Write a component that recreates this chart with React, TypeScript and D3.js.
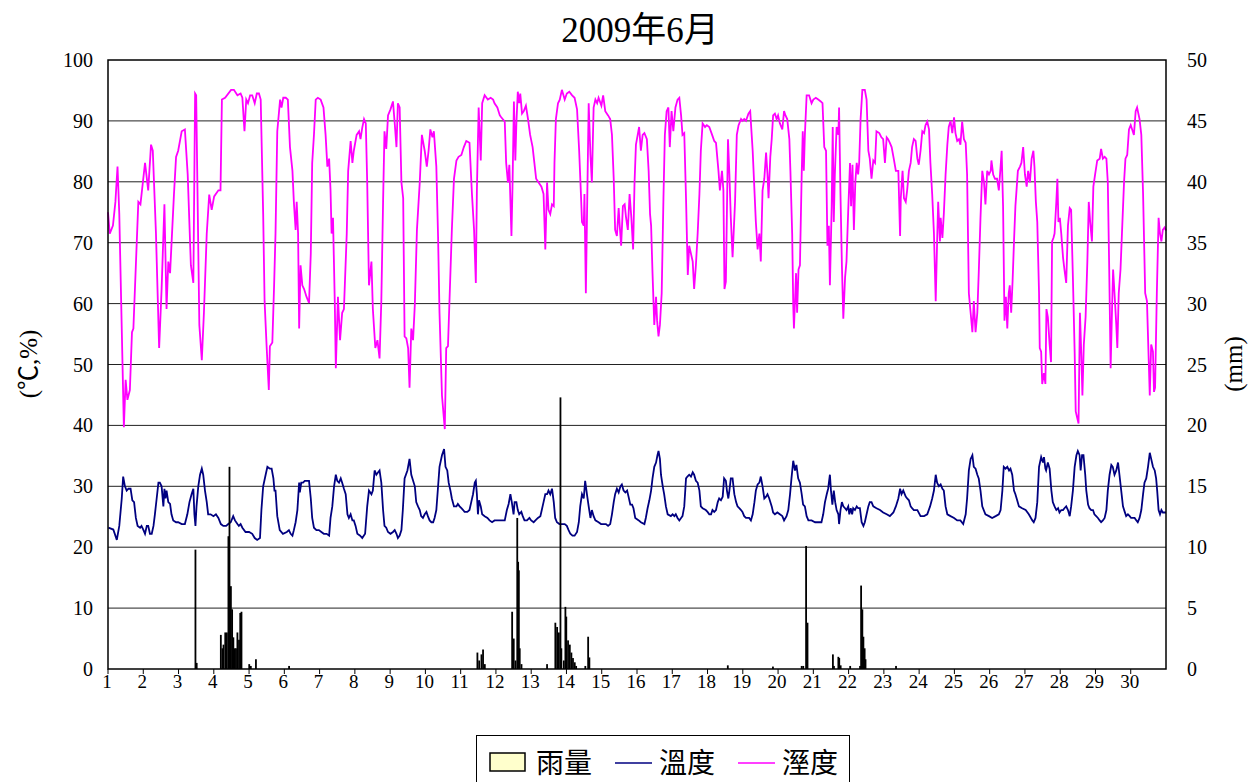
import React from "react";
import * as d3 from "d3";

// time in days since 1 June 00:00, value
const humidity: [number, number][] = [
[0.00,75.0],[0.05,71.5],[0.14,72.8],[0.21,76.7],[0.27,82.5],[0.32,74.7],[0.45,39.7],[0.50,47.5],[0.55,44.2],[0.62,45.8],[0.68,55.3],[0.72,55.9],[0.86,76.7],[0.92,76.3],[1.05,83.1],[1.14,78.6],[1.22,86.1],[1.27,85.1],[1.36,71.5],[1.45,52.7],[1.52,62.4],[1.60,76.3],[1.66,59.1],[1.71,66.9],[1.76,65.0],[1.87,77.9],[1.93,84.1],[1.99,85.1],[2.09,88.3],[2.18,88.6],[2.26,81.2],[2.35,66.3],[2.42,63.4],[2.47,94.5],[2.50,94.2],[2.59,56.5],[2.66,50.7],[2.72,58.5],[2.80,71.5],[2.87,77.9],[2.94,75.4],[3.01,77.6],[3.13,78.6],[3.19,78.6],[3.23,93.5],[3.32,93.8],[3.49,95.1],[3.57,95.1],
[3.67,94.2],[3.76,94.5],[3.81,93.8],[3.87,88.3],[3.92,93.5],[3.97,92.9],[4.03,94.2],[4.09,94.2],[4.16,92.9],[4.22,94.5],[4.28,94.5],[4.33,93.5],[4.40,74.7],[4.44,60.4],[4.50,52.7],[4.56,45.8],[4.59,53.0],[4.66,53.6],[4.71,63.0],[4.75,71.5],[4.80,88.3],[4.88,93.5],[4.92,92.2],[4.97,93.8],[5.04,93.8],[5.10,93.5],[5.16,85.7],[5.23,81.8],[5.27,76.7],[5.32,72.1],[5.35,76.7],[5.39,71.5],[5.42,55.9],[5.46,66.3],[5.51,63.0],[5.56,62.4],[5.63,61.1],[5.70,60.1],[5.75,68.2],[5.79,83.1],[5.84,87.7],[5.89,93.5],[5.95,93.8],[6.03,93.5],[6.11,92.2],[6.17,87.7],[6.22,82.5],[6.27,83.8],[6.31,78.6],[6.34,71.5],[6.38,74.1],[6.43,60.4],[6.46,49.4],[6.52,61.1],[6.58,54.0],[6.64,58.5],[6.69,59.1],[6.77,71.5],[6.81,81.8],[6.88,86.7],[6.93,83.1],[6.97,85.1],[7.05,87.7],[7.12,88.3],[7.16,87.0],[7.21,88.9],[7.26,90.3],[7.31,89.6],[7.35,79.9],[7.40,63.0],
[7.47,66.9],[7.51,59.1],[7.58,52.7],[7.64,54.0],[7.70,51.0],[7.75,60.4],[7.80,76.7],[7.84,88.3],[7.89,85.4],[7.94,90.9],[8.01,91.9],[8.08,93.2],[8.13,89.6],[8.18,85.7],[8.22,92.9],[8.27,92.2],[8.32,79.9],[8.37,77.3],[8.41,54.6],[8.46,54.3],[8.51,52.7],[8.55,46.2],[8.60,55.9],[8.65,54.0],[8.70,59.8],[8.76,72.1],[8.84,79.9],[8.90,87.7],[8.98,85.1],[9.04,82.5],[9.09,85.1],[9.14,88.6],[9.20,87.3],[9.24,88.3],[9.31,82.5],[9.36,70.8],[9.40,58.5],[9.47,44.9],[9.55,39.4],[9.59,52.7],[9.64,53.0],[9.69,61.7],[9.75,72.1],[9.81,80.5],[9.88,83.5],[9.94,84.1],[10.02,84.4],[10.09,85.7],[10.16,86.7],[10.25,86.4],[10.32,78.0],[10.38,72.1],[10.43,63.4],[10.46,78.6],[10.51,92.2],[10.57,83.5],[10.61,92.9],[10.68,94.2],[10.77,93.5],[10.85,93.8],[10.92,93.5],[10.96,92.9],[11.04,92.2],[11.11,90.9],[11.15,90.6],
[11.25,89.9],[11.29,83.1],[11.34,79.9],[11.38,82.8],[11.44,71.1],[11.47,79.2],[11.51,93.2],[11.55,83.5],[11.58,89.6],[11.62,94.8],[11.66,92.9],[11.69,94.5],[11.74,91.2],[11.79,91.6],[11.85,92.5],[11.91,90.3],[11.97,87.7],[12.04,85.7],[12.09,83.1],[12.14,80.5],[12.21,79.9],[12.29,79.2],[12.35,78.0],[12.40,68.9],[12.45,79.9],[12.49,75.4],[12.54,74.7],[12.59,76.3],[12.64,76.0],[12.66,83.1],[12.70,90.3],[12.76,92.9],[12.81,93.5],[12.87,95.1],[12.95,93.5],[13.01,94.5],[13.08,94.8],[13.16,94.2],[13.23,93.8],[13.30,91.9],[13.36,85.1],[13.41,78.0],[13.44,73.4],[13.49,72.8],[13.51,78.0],[13.55,61.7],[13.59,77.3],[13.63,92.9],[13.68,84.4],[13.72,79.9],[13.77,92.2],[13.82,93.5],[13.87,92.9],[13.91,93.8],[13.99,92.5],[14.04,94.2],[14.10,91.6],[14.18,90.9],[14.24,90.3],[14.29,87.7],[14.34,80.5],[14.38,72.1],[14.43,71.1],[14.48,75.7],[14.51,72.8],[14.55,69.5],[14.60,76.0],[14.65,76.3],[14.69,74.1],[14.74,72.1],[14.79,78.0],[14.84,74.1],[14.89,68.9],[14.93,79.9],[14.97,86.1],
[15.02,87.7],[15.06,89.0],[15.11,85.1],[15.16,87.7],[15.21,88.0],[15.28,87.0],[15.33,81.8],[15.37,74.7],[15.40,72.8],[15.44,65.0],[15.49,56.5],[15.54,61.1],[15.57,57.2],[15.61,54.6],[15.65,56.5],[15.70,61.7],[15.75,77.3],[15.79,87.7],[15.84,91.6],[15.89,92.2],[15.93,85.7],[15.98,91.6],[16.03,88.3],[16.09,92.2],[16.15,93.5],[16.20,93.8],[16.25,90.9],[16.29,87.7],[16.34,88.0],[16.39,77.3],[16.44,64.7],[16.48,69.5],[16.53,68.2],[16.58,66.9],[16.62,62.4],[16.67,66.3],[16.72,71.5],[16.77,78.0],[16.81,85.1],[16.86,89.6],[16.93,89.0],[16.98,89.3],[17.05,89.0],[17.13,87.7],[17.19,86.7],[17.24,86.4],[17.31,81.8],[17.35,78.6],[17.41,81.8],[17.45,78.6],[17.48,62.4],[17.52,63.6],[17.58,87.0],[17.62,81.2],[17.66,74.1],[17.71,67.6],[17.78,76.7],[17.83,87.7],[17.88,89.3],[17.95,90.3],[17.99,90.0],[18.04,90.3],[18.09,90.0],[18.16,91.2],[18.21,91.6],[18.28,85.1],[18.33,78.6],[18.37,73.4],[18.42,68.9],[18.47,71.5],[18.51,66.9],[18.56,78.6],[18.61,80.5],[18.66,84.8],[18.70,81.2],[18.73,77.3],[18.78,84.1],
[18.82,87.0],[18.86,90.9],[18.91,91.2],[18.96,90.3],[19.00,90.9],[19.05,89.6],[19.12,88.6],[19.17,91.6],[19.21,90.9],[19.26,90.3],[19.32,87.0],[19.35,81.8],[19.40,71.5],[19.43,59.8],[19.45,55.9],[19.48,60.4],[19.51,65.0],[19.54,58.5],[19.58,65.6],[19.62,66.3],[19.67,81.2],[19.70,88.3],[19.73,81.8],[19.76,87.7],[19.81,94.2],[19.88,94.2],[19.95,92.9],[20.00,93.5],[20.07,93.8],[20.14,93.5],[20.21,93.2],[20.26,92.9],[20.31,85.7],[20.36,85.1],[20.40,69.5],[20.44,72.8],[20.47,63.0],[20.52,75.9],[20.55,89.0],[20.58,73.4],[20.61,81.2],[20.66,89.0],[20.71,87.7],[20.73,92.2],[20.77,77.9],[20.81,66.3],[20.85,57.5],[20.90,64.3],[20.94,66.9],[20.99,75.4],[21.04,83.1],[21.07,76.0],[21.11,82.8],[21.15,72.1],[21.19,79.9],[21.23,83.1],[21.27,81.2],[21.30,83.1],[21.34,90.3],[21.39,95.1],[21.46,95.1],[21.51,93.5],[21.56,85.1],[21.60,83.8],[21.65,80.5],[21.70,83.5],[21.75,83.1],[21.79,88.3],[21.87,88.0],[21.93,87.3],[21.98,87.0],[22.03,83.1],[22.08,87.3],[22.12,87.0],[22.17,86.4],[22.22,85.7],[22.28,83.8],[22.34,81.8],[22.41,81.8],[22.46,71.1],[22.48,77.3],[22.53,81.8],[22.57,77.3],
[22.62,76.7],[22.66,78.6],[22.71,81.8],[22.76,83.1],[22.80,85.7],[22.85,87.0],[22.90,86.7],[22.95,83.8],[22.99,82.8],[23.04,85.1],[23.09,88.3],[23.14,88.0],[23.18,89.3],[23.23,89.9],[23.28,88.6],[23.32,83.1],[23.37,78.0],[23.42,71.5],[23.47,60.4],[23.51,70.2],[23.54,76.7],[23.59,70.2],[23.61,74.1],[23.66,70.8],[23.70,74.7],[23.75,81.2],[23.80,86.1],[23.84,89.0],[23.89,90.0],[23.94,88.0],[23.99,90.6],[24.03,88.0],[24.08,86.7],[24.13,87.0],[24.17,86.1],[24.22,89.9],[24.27,87.0],[24.32,86.4],[24.36,81.2],[24.41,61.7],[24.46,58.5],[24.51,55.3],[24.55,60.4],[24.60,55.3],[24.65,58.5],[24.69,65.0],[24.74,74.1],[24.79,81.8],[24.84,79.9],[24.88,76.3],[24.93,81.8],[24.98,81.2],[25.03,81.8],[25.05,83.5],[25.10,81.2],[25.15,80.5],[25.21,80.5],[25.26,78.6],[25.31,82.5],[25.34,85.1],[25.38,76.0],[25.42,57.2],[25.46,61.1],[25.50,55.9],[25.54,61.7],[25.57,63.0],[25.61,58.5],[25.65,63.7],[25.69,70.2],[25.73,76.0],[25.80,81.8],[25.86,82.5],[25.90,83.1],[25.95,85.7],[26.00,81.2],[26.05,79.2],[26.09,81.8],[26.14,79.9],[26.19,83.8],[26.24,85.1],[26.27,82.5],[26.31,76.7],[26.35,73.4],
[26.40,61.7],[26.42,52.7],[26.46,52.1],[26.49,46.8],[26.54,48.6],[26.58,46.8],[26.61,59.1],[26.65,57.8],[26.70,53.3],[26.74,50.4],[26.77,70.2],[26.81,70.8],[26.84,71.5],[26.89,76.7],[26.92,80.5],[26.95,73.4],[26.99,74.1],[27.03,71.5],[27.08,67.6],[27.12,65.6],[27.17,63.4],[27.22,72.8],[27.27,75.7],[27.31,75.4],[27.36,64.3],[27.41,52.0],[27.44,42.3],[27.48,41.3],[27.52,40.3],[27.56,58.5],[27.60,51.4],[27.63,44.9],[27.67,53.3],[27.72,57.8],[27.77,66.9],[27.81,76.7],[27.85,73.4],[27.90,70.2],[27.94,79.2],[27.99,81.2],[28.05,83.5],[28.12,83.8],[28.16,85.4],[28.21,83.8],[28.26,84.1],[28.31,83.8],[28.35,79.9],[28.39,65.6],[28.43,49.4],[28.47,59.1],[28.50,65.6],[28.54,61.7],[28.59,56.5],[28.62,52.7],[28.66,61.7],[28.71,65.6],[28.76,72.8],[28.81,79.9],[28.85,83.8],[28.90,84.4],[28.95,88.6],[29.00,89.3],[29.04,88.6],[29.09,87.7],[29.14,91.6],[29.18,92.2],[29.25,90.3],[29.30,87.7],[29.35,78.0],[29.41,61.7],[29.46,60.4],[29.51,50.7],[29.54,44.9],[29.58,53.3],[29.63,52.1],[29.66,45.5],[29.69,46.2],[29.74,61.7],[29.79,74.1],[29.83,71.5],[29.87,70.2],[29.91,72.1],[29.96,72.5],[30.00,72.0]
];

const temperature: [number, number][] = [
[0.01,23.2],[0.15,22.9],[0.25,21.2],[0.32,23.5],[0.39,28.0],[0.43,31.6],[0.48,30.0],[0.53,29.3],[0.58,29.6],[0.64,29.6],[0.69,27.7],[0.74,27.4],[0.79,24.8],[0.84,23.5],[0.91,23.2],[0.95,23.5],[1.00,22.9],[1.05,22.2],[1.10,23.5],[1.14,23.5],[1.19,22.2],[1.24,22.2],[1.29,23.5],[1.33,25.4],[1.38,28.0],[1.43,30.6],[1.47,30.6],[1.52,30.0],[1.57,26.7],[1.60,29.6],[1.63,28.0],[1.66,29.3],[1.71,27.4],[1.76,27.1],[1.80,25.4],[1.85,24.4],[1.93,24.1],[1.99,24.1],[2.09,23.8],[2.18,23.8],[2.25,25.4],[2.31,27.4],[2.37,28.7],[2.42,29.6],[2.45,25.4],[2.48,23.5],[2.51,26.7],[2.56,30.0],[2.61,31.9],[2.66,32.9],[2.70,31.9],[2.75,29.3],[2.80,27.4],[2.84,25.4],[2.91,25.4],[2.99,25.1],[3.06,25.4],[3.13,24.8],[3.20,23.8],[3.27,23.5],[3.35,23.5],[3.41,23.8],[3.48,24.1],[3.55,25.1],
[3.60,24.4],[3.67,23.8],[3.71,23.5],[3.76,23.8],[3.81,23.2],[3.90,22.5],[4.00,22.5],[4.09,22.2],[4.16,21.5],[4.23,21.2],[4.31,21.5],[4.35,26.1],[4.40,30.0],[4.47,31.9],[4.52,33.2],[4.59,32.9],[4.64,32.9],[4.69,31.3],[4.72,29.3],[4.75,29.3],[4.80,25.1],[4.87,22.8],[4.96,22.2],[5.07,22.5],[5.13,22.8],[5.18,22.2],[5.23,21.9],[5.27,22.8],[5.32,24.1],[5.37,26.1],[5.42,30.6],[5.44,29.0],[5.48,30.6],[5.53,30.6],[5.58,30.9],[5.65,30.9],[5.70,30.9],[5.75,28.0],[5.79,24.8],[5.84,23.2],[5.91,22.8],[5.98,22.8],[6.05,22.5],[6.12,22.2],[6.20,22.2],[6.27,21.9],[6.31,24.8],[6.36,26.7],[6.41,30.0],[6.46,31.9],[6.50,30.9],[6.55,30.6],[6.60,31.3],[6.64,30.6],[6.69,29.6],[6.74,28.7],[6.79,25.4],[6.83,24.8],[6.88,25.4],[6.93,24.4],[6.97,24.4],[7.02,23.5],[7.07,22.2],[7.15,21.9],[7.21,21.5],[7.29,22.2],[7.35,26.7],[7.40,29.3],
[7.47,28.7],[7.51,29.3],[7.56,32.6],[7.61,31.9],[7.66,32.3],[7.70,32.6],[7.75,30.6],[7.80,26.1],[7.84,23.5],[7.89,23.2],[7.94,22.5],[8.01,22.2],[8.08,22.5],[8.13,22.8],[8.18,22.2],[8.22,21.5],[8.27,21.9],[8.32,22.8],[8.36,26.1],[8.41,31.3],[8.49,32.6],[8.55,34.5],[8.60,31.9],[8.70,30.0],[8.74,27.4],[8.79,26.7],[8.84,26.1],[8.88,25.1],[8.93,24.8],[8.98,25.4],[9.03,25.8],[9.07,25.1],[9.12,24.4],[9.17,24.1],[9.22,24.1],[9.26,24.8],[9.31,26.1],[9.36,30.0],[9.40,33.2],[9.47,35.1],[9.53,36.1],[9.57,33.2],[9.62,32.6],[9.66,30.6],[9.71,29.3],[9.75,28.0],[9.81,26.7],[9.88,26.7],[9.92,27.1],[9.97,26.7],[10.02,26.4],[10.07,26.1],[10.11,25.8],[10.19,25.8],[10.25,26.1],[10.30,27.4],[10.35,28.7],[10.40,30.6],[10.43,30.9],[10.46,28.7],[10.49,25.4],[10.52,27.7],[10.57,26.7],[10.61,25.4],[10.68,25.1],[10.76,24.8],[10.82,24.4],[10.89,24.1],[10.96,24.4],[11.06,24.4],[11.15,24.4],
[11.25,24.4],[11.31,26.1],[11.36,27.1],[11.41,28.7],[11.45,27.4],[11.50,25.4],[11.53,27.4],[11.58,27.4],[11.62,26.1],[11.66,25.4],[11.72,25.8],[11.76,25.1],[11.81,24.4],[11.88,24.4],[11.95,24.8],[12.00,24.4],[12.07,24.1],[12.12,24.4],[12.19,24.8],[12.26,25.1],[12.30,26.1],[12.35,27.4],[12.40,28.7],[12.45,28.7],[12.49,29.3],[12.54,28.7],[12.59,29.6],[12.64,27.4],[12.68,24.8],[12.73,24.1],[12.80,23.8],[12.87,23.8],[12.95,23.8],[13.01,23.5],[13.06,22.8],[13.11,22.2],[13.17,21.9],[13.23,21.9],[13.30,22.5],[13.35,24.1],[13.39,26.7],[13.44,28.7],[13.49,28.0],[13.53,30.9],[13.58,28.7],[13.63,26.7],[13.68,24.8],[13.72,26.1],[13.77,25.1],[13.82,24.4],[13.91,24.1],[13.98,23.8],[14.05,23.8],[14.12,23.8],[14.18,23.5],[14.24,23.8],[14.29,25.4],[14.34,27.4],[14.38,28.7],[14.43,29.6],[14.48,29.0],[14.53,30.0],[14.57,30.3],[14.62,29.3],[14.67,29.0],[14.72,29.3],[14.76,28.3],[14.81,27.0],[14.86,27.0],[14.90,26.4],[14.95,24.8],
[15.05,24.4],[15.11,24.1],[15.21,23.8],[15.25,24.8],[15.30,26.4],[15.35,27.7],[15.40,29.3],[15.44,31.3],[15.49,33.2],[15.54,33.9],[15.58,35.1],[15.61,35.8],[15.65,34.5],[15.68,31.9],[15.73,30.0],[15.77,28.7],[15.82,26.7],[15.87,25.4],[15.96,25.1],[16.01,25.4],[16.06,25.1],[16.10,25.4],[16.15,24.8],[16.20,24.4],[16.25,24.8],[16.29,25.1],[16.34,26.7],[16.39,31.3],[16.43,31.6],[16.48,31.9],[16.53,31.6],[16.58,32.3],[16.62,31.9],[16.67,30.9],[16.72,30.6],[16.77,29.3],[16.81,26.7],[16.86,26.4],[16.95,26.1],[17.00,25.8],[17.05,25.4],[17.10,25.4],[17.14,26.1],[17.19,25.8],[17.24,26.1],[17.29,27.4],[17.33,28.0],[17.38,27.7],[17.43,28.3],[17.47,31.3],[17.52,30.9],[17.55,29.3],[17.59,28.0],[17.62,29.3],[17.66,31.3],[17.71,31.3],[17.76,28.7],[17.81,27.4],[17.85,26.7],[17.90,26.4],[17.95,26.1],[17.99,25.8],[18.04,25.1],[18.09,24.8],[18.18,24.8],[18.23,24.4],[18.28,25.4],[18.33,27.4],[18.37,29.3],[18.42,30.3],[18.47,30.6],[18.51,31.6],[18.56,30.0],[18.61,28.0],[18.66,28.3],[18.70,28.7],[18.75,28.0],
[18.82,26.7],[18.86,25.7],[18.91,25.4],[18.98,25.7],[19.05,25.4],[19.12,25.1],[19.17,24.4],[19.24,25.1],[19.29,26.1],[19.34,28.7],[19.38,31.3],[19.43,34.2],[19.48,32.6],[19.52,33.5],[19.57,31.3],[19.62,30.6],[19.67,28.7],[19.71,27.0],[19.76,26.7],[19.81,25.1],[19.86,24.4],[19.95,24.4],[20.05,24.1],[20.14,24.1],[20.23,24.1],[20.28,25.4],[20.33,27.4],[20.38,28.7],[20.42,29.6],[20.47,31.9],[20.50,29.3],[20.54,27.0],[20.58,29.3],[20.62,27.4],[20.66,26.1],[20.71,25.4],[20.73,23.8],[20.77,26.1],[20.81,27.4],[20.85,26.7],[20.90,26.4],[20.94,26.1],[20.99,26.7],[21.02,25.4],[21.06,26.4],[21.10,25.4],[21.13,26.4],[21.18,26.1],[21.23,26.7],[21.27,26.4],[21.32,26.4],[21.37,24.1],[21.42,23.5],[21.46,24.1],[21.51,25.4],[21.56,26.7],[21.60,27.4],[21.65,27.4],[21.70,26.7],[21.79,26.4],[21.89,26.1],[21.98,25.7],[22.08,25.4],[22.17,25.1],[22.27,25.7],[22.34,26.7],[22.41,28.0],[22.46,29.6],[22.50,28.7],[22.55,29.3],
[22.62,28.3],[22.66,28.0],[22.71,27.7],[22.76,26.7],[22.80,26.4],[22.85,26.1],[22.95,26.1],[23.04,25.1],[23.14,25.1],[23.23,25.4],[23.31,26.7],[23.37,28.0],[23.42,29.3],[23.47,31.9],[23.51,30.6],[23.56,30.0],[23.61,30.3],[23.66,29.6],[23.70,29.3],[23.75,26.7],[23.80,25.4],[23.89,25.1],[23.99,24.8],[24.08,24.4],[24.17,24.4],[24.25,23.8],[24.32,25.4],[24.36,28.0],[24.41,32.6],[24.46,34.5],[24.51,35.1],[24.55,33.2],[24.60,32.9],[24.65,31.9],[24.69,31.3],[24.74,29.3],[24.79,26.7],[24.88,25.4],[24.98,25.1],[25.07,24.8],[25.17,25.1],[25.26,25.4],[25.31,26.1],[25.36,29.3],[25.40,33.2],[25.45,32.9],[25.50,33.2],[25.55,32.6],[25.59,32.9],[25.64,31.9],[25.69,29.3],[25.73,28.7],[25.78,27.7],[25.83,26.7],[25.92,26.4],[26.02,26.1],[26.11,25.4],[26.21,24.4],[26.25,24.1],[26.30,24.8],[26.35,27.4],[26.40,33.2],
[26.46,34.8],[26.51,33.9],[26.54,34.8],[26.58,32.9],[26.60,32.6],[26.65,33.9],[26.70,32.9],[26.75,29.3],[26.79,27.4],[26.84,26.7],[26.89,26.1],[26.94,26.4],[26.98,25.7],[27.03,26.1],[27.08,26.1],[27.12,26.4],[27.17,26.7],[27.22,26.1],[27.27,25.1],[27.31,26.7],[27.36,29.3],[27.41,33.2],[27.46,35.1],[27.50,35.8],[27.55,35.1],[27.58,32.6],[27.62,35.1],[27.66,35.1],[27.71,31.9],[27.74,29.3],[27.79,27.0],[27.83,26.4],[27.88,26.1],[27.93,26.1],[27.97,25.4],[28.02,25.1],[28.07,24.8],[28.12,24.4],[28.16,24.1],[28.21,24.4],[28.26,24.8],[28.31,26.1],[28.35,29.3],[28.40,31.9],[28.45,33.5],[28.49,33.2],[28.54,31.9],[28.59,32.6],[28.64,33.9],[28.68,31.9],[28.73,29.3],[28.78,26.7],[28.83,25.8],[28.87,25.1],[28.92,25.4],[28.97,25.1],[29.01,24.8],[29.11,24.8],[29.16,24.4],[29.20,24.1],[29.25,24.8],[29.30,26.1],[29.35,28.7],[29.39,30.6],[29.44,31.3],[29.49,33.2],[29.54,35.5],[29.58,34.5],[29.63,33.2],[29.68,32.6],[29.72,31.3],[29.75,29.3],[29.79,26.1],[29.83,25.4],[29.87,26.1],[29.91,25.7],[29.96,25.7],[30.00,25.7]
];

// rainfall (mm), time in days
const rainfall: [number, number][] = [
[2.475,9.8],[2.51,0.5],[3.195,2.8],[3.24,1.7],[3.27,2.0],[3.32,3.0],[3.365,3.0],[3.41,10.9],[3.44,16.6],[3.48,6.8],[3.515,4.9],[3.55,2.6],[3.59,1.7],[3.625,1.7],[3.665,3.0],[3.71,2.4],[3.745,4.6],[3.78,4.7],[4.0,0.4],[4.045,0.25],[4.19,0.8],[5.13,0.25],
[10.47,1.35],[10.52,0.7],[10.585,1.2],[10.63,1.6],[10.68,0.4],[11.455,4.7],[11.5,2.5],[11.55,0.7],[11.6,12.4],[11.625,8.8],[11.645,8.1],[11.67,1.7],[11.72,0.4],[12.445,0.4],[12.68,3.8],[12.73,3.45],[12.78,3.0],[12.825,22.3],[12.85,1.7],[12.92,0.7],[12.965,5.1],[12.99,4.3],[13.04,2.35],[13.09,2.0],[13.135,1.35],[13.18,0.9],[13.23,0.55],[13.27,0.25],[13.53,0.25],[13.61,2.65],[13.645,0.95],
[17.57,0.3],[18.85,0.2],[19.665,0.25],[19.71,0.25],[19.79,10.1],[19.83,3.8],[20.55,1.2],[20.58,0.25],[20.705,1.0],[20.73,0.9],[20.77,0.3],[21.04,0.25],[21.32,0.25],[21.35,6.85],[21.385,4.9],[21.415,2.65],[21.45,1.7],[21.475,0.8],[22.34,0.25]
];

const dayLabels = d3.range(1, 31);
const leftTicks = d3.range(0, 101, 10);
const rightTicks = d3.range(0, 51, 5);
const title = "2009年6月";
const leftTitle = "(℃,%)";
const rightTitle = "(mm)";
const legendItems = ["雨量", "溫度", "溼度"];

const W = 1255, H = 782;
const L = 108, R = 1166, T = 60, B = 669;
const FONT = "'Liberation Serif', 'Times New Roman', 'Noto Sans CJK TC', serif";

export default function App() {
  const x = d3.scaleLinear().domain([0, 30]).range([L, R]);
  const yL = d3.scaleLinear().domain([0, 100]).range([B, T]);
  const yR = d3.scaleLinear().domain([0, 50]).range([B, T]);
  const lineL = d3.line<[number, number]>().x(d => x(d[0])).y(d => yL(d[1]));
  const hourW = x(1 / 24) - x(0);

  return (
    <svg width={W} height={H} style={{ position: "absolute", left: 0, top: 0, background: "#fff" }} fontFamily={FONT}>
      <rect x={0} y={0} width={W} height={H} fill="#fff" />
      <text x={640} y={42} textAnchor="middle" fontSize={35}>{title}</text>
      {leftTicks.slice(1, -1).map(v => (
        <line key={v} x1={L} x2={R} y1={yL(v)} y2={yL(v)} stroke="#222" strokeWidth={1} />
      ))}
      <path d={lineL(temperature) || ""} fill="none" stroke="#000080" strokeWidth={1.8} />
      <path d={lineL(humidity) || ""} fill="none" stroke="#FF00FF" strokeWidth={1.8} />
      {rainfall.map(([t, v], i) => (
        <rect key={i} x={x(t) - hourW / 2} y={yR(v)} width={Math.max(hourW, 1.8)} height={B - yR(v)} fill="#000" />
      ))}
      <rect x={L} y={T} width={R - L} height={B - T} fill="none" stroke="#000" strokeWidth={1.5} />
      {dayLabels.map((d, i) => (
        <g key={d}>
          <line x1={x(i)} x2={x(i)} y1={B} y2={B + 5} stroke="#000" />
          <text x={x(i) - 1} y={688} textAnchor="middle" fontSize={19}>{d}</text>
        </g>
      ))}
      {leftTicks.map(v => (
        <text key={v} x={93} y={yL(v) + 7} textAnchor="end" fontSize={20}>{v}</text>
      ))}
      {rightTicks.map(v => (
        <text key={v} x={1187} y={yR(v) + 7} textAnchor="start" fontSize={20}>{v}</text>
      ))}
      <text transform="translate(37,364) rotate(-90)" textAnchor="middle" fontSize={25}>{leftTitle}</text>
      <text transform="translate(1242,364) rotate(-90)" textAnchor="middle" fontSize={25}>{rightTitle}</text>
      <rect x={476.5} y={735.5} width={373} height={60} fill="#fff" stroke="#000" strokeWidth={1} />
      <rect x={490} y={753} width={35} height={18} fill="#FFFFCC" stroke="#000" strokeWidth={1.5} />
      <text x={536} y={773} fontSize={28}>{legendItems[0]}</text>
      <line x1={615} x2={652} y1={763} y2={763} stroke="#000080" strokeWidth={1.6} />
      <text x={659} y={773} fontSize={28}>{legendItems[1]}</text>
      <line x1={738} x2={775} y1={763} y2={763} stroke="#FF00FF" strokeWidth={1.6} />
      <text x={782} y={773} fontSize={28}>{legendItems[2]}</text>
    </svg>
  );
}
